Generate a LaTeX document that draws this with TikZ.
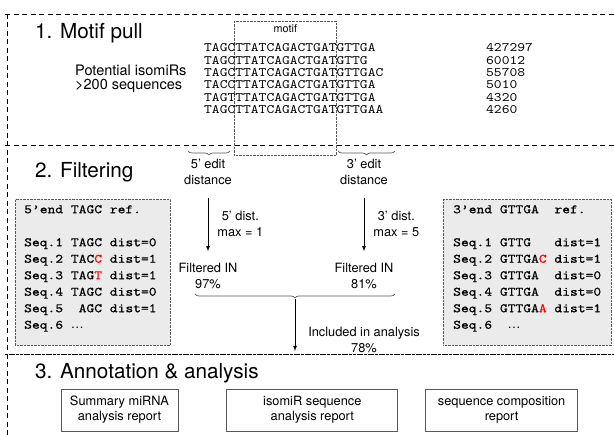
\documentclass[tikz,border=0pt]{standalone}
\usepackage{fontspec}
\setmainfont{TeX Gyre Heros}
\newfontfamily\seqfont{lmmono10-regular.otf}[FakeStretch=1.15]
\newfontfamily\reffont{lmmono10-regular.otf}[FakeStretch=1.15, FakeBold=0.5]
\usetikzlibrary{positioning, decorations.pathreplacing}
\usetikzlibrary{arrows, arrows.meta}
\tikzset{>=latex}
\colorlet{boxgray}{black!8}
\colorlet{edgegray}{black!65}

\begin{document}
\begin{tikzpicture}[x=1pt, y=-1pt,
  sect/.style={line width=0.9pt, dash pattern=on 5pt off 3.5pt},
  dotbox/.style={draw=edgegray, line width=0.7pt, dash pattern=on 0.7pt off 0.7pt},
  ttl/.style={anchor=west, inner sep=0, font=\fontsize{20.7}{24}\selectfont},
  lbl/.style={inner sep=0, align=center, font=\fontsize{12.8}{15.5}\selectfont},
  seq/.style={anchor=west, inner sep=0, font=\fontsize{12.9}{16.5}\selectfont\seqfont},
  reftxt/.style={anchor=north west, inner sep=0, align=left, font=\fontsize{12.9}{16.5}\selectfont\reffont},
  report/.style={draw=edgegray, line width=0.8pt, minimum height=42pt, align=center, font=\fontsize{12.8}{15}\selectfont},
  brc/.style={draw=edgegray, line width=0.7pt, decorate, decoration={brace, amplitude=4pt}}]
  \useasboundingbox (0,0) rectangle (614,435);

  \draw[sect] (5,14) -- (614,14);
  \draw[sect] (7,14) -- (7,435);
  \draw[sect] (5,145) -- (614,145);
  \draw[line width=1pt, dash pattern=on 3pt off 0.7pt] (5,355) -- (614,355);

  \node[ttl] (t1) at (35,33) {1. Motif pull};
  \node[dotbox, minimum width=102pt, minimum height=134pt, anchor=north west] (motif) at (234,21) {};
  \node[lbl, font=\fontsize{10.8}{12}\selectfont, below=3pt of motif.north] (motiflbl) {motif};
  \node[lbl, anchor=west, align=left, font=\fontsize{14.5}{13.5}\selectfont] (pot) at (75,79) {Potential isomiRs\\>200 sequences};
  \foreach \s/\n [count=\i] in {TAGCTTATCAGACTGATGTTGA/427297, TAGCTTATCAGACTGATGTTG/60012,
      TAGCTTATCAGACTGATGTTGAC/55708, TACCTTATCAGACTGATGTTGA/5010,
      TAGTTTATCAGACTGATGTTGA/4320, TAGCTTATCAGACTGATGTTGAA/4260} {
    \node[seq] (sq\i) at (204,35.7+12.3*\i) {\s};
    \node[seq] (cnt\i) at (486,35.7+12.3*\i) {\n};
  }

  \node[ttl] (t2) at (35,172) {2. Filtering};
  \node[lbl] (edit5) at (208,172) {5’ edit\\distance};
  \node[lbl] (edit3) at (364,172) {3’ edit\\distance};
  \draw[brc] (230,151) -- (188,151);
  \draw[brc] (395,151) -- (338,151);
  \node[lbl] (fin5) at (208,276) {Filtered IN\\97\%};
  \node[lbl] (fin3) at (364,276) {Filtered IN\\81\%};
  \draw[->, line width=0.8pt, shorten <=13pt, shorten >=12pt] (edit5) -- node[lbl, right=9pt] (dist5) {5’ dist.\\max = 1} (fin5);
  \draw[->, line width=0.8pt, shorten <=13pt, shorten >=12pt] (edit3) -- node[lbl, right=9pt] (dist3) {3’ dist.\\max = 5} (fin3);

  \node[dotbox, fill=boxgray, minimum width=155pt, minimum height=146pt, anchor=north west] (box5) at (15,199) {};
  \node[reftxt] (txt5) at ([xshift=9pt, yshift=-6pt]box5.north west)
    {5’end~TAGC~ref.\\[16.5pt]Seq.1~TAGC~dist=0\\Seq.2~TAC\textcolor{red}{C}~dist=1\\Seq.3~TAG\textcolor{red}{T}~dist=1\\Seq.4~TAGC~dist=0\\Seq.5~~AGC~dist=1\\Seq.6~{\rmfamily …}};
  \node[dotbox, fill=boxgray, minimum width=168pt, minimum height=146pt, anchor=north west] (box3) at (443,199) {};
  \node[reftxt] (txt3) at ([xshift=10pt, yshift=-6pt]box3.north west)
    {3’end~GTTGA~~ref.\\[16.5pt]Seq.1~GTTG~~~dist=1\\Seq.2~GTTGA\textcolor{red}{C}~dist=1\\Seq.3~GTTGA~~dist=0\\Seq.4~GTTGA~~dist=0\\Seq.5~GTTGA\textcolor{red}{A}~dist=1\\Seq.6~~{\rmfamily …}};

  \draw[brc] (395,294) -- (195,294);
  \coordinate (btip) at (295,299);
  \coordinate (bend) at (295,351);
  \draw[->, line width=0.8pt] (btip) -- (bend);
  \node[lbl] (incl) at (364,340) {Included in analysis\\78\%};

  \node[ttl] (t3) at (35,373) {3. Annotation \& analysis};
  \node[report, minimum width=117pt] (rep1) at (119.5,410) {Summary miRNA\\analysis report};
  \node[report, minimum width=171pt, right=48pt of rep1] (rep2) {isomiR sequence\\analysis report};
  \node[report, minimum width=152pt, right=27pt of rep2] (rep3) {sequence composition\\report};
\end{tikzpicture}
\end{document}
